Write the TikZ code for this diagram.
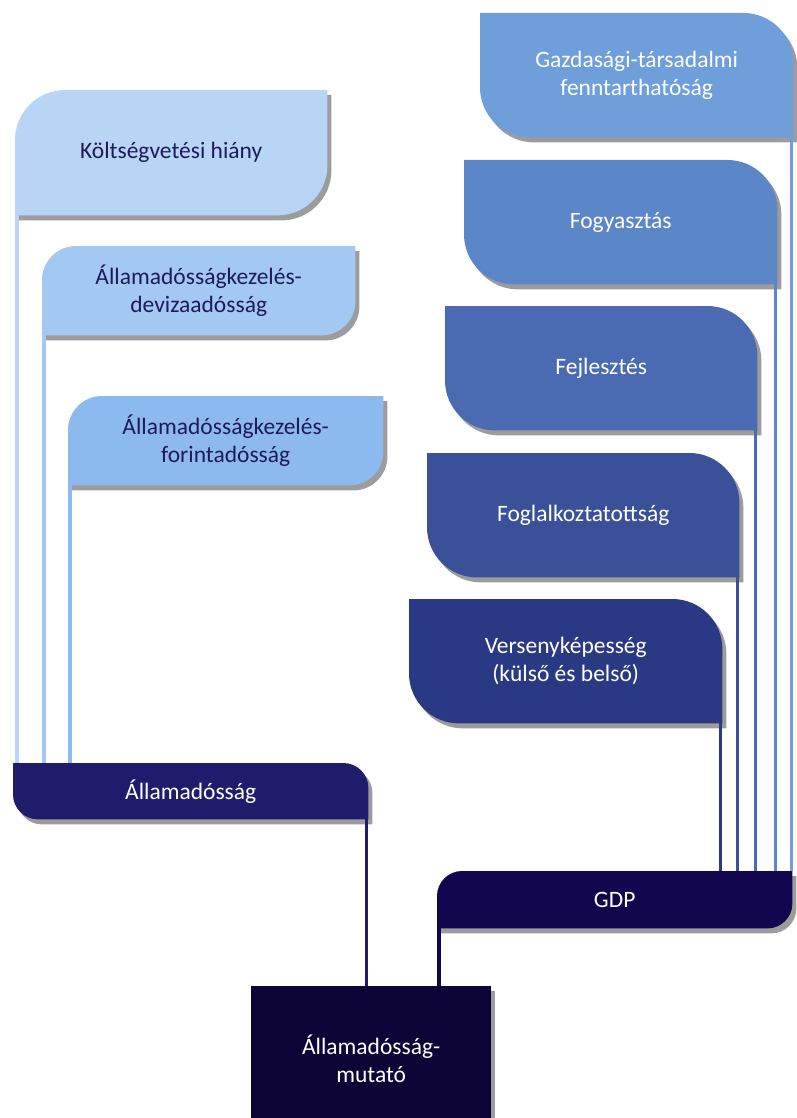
\documentclass[tikz,border=0pt]{standalone}
\usepackage{fontspec}
\setmainfont{Carlito}
\usetikzlibrary{backgrounds}

\definecolor{kvcol}{HTML}{B8D5F6}
\definecolor{devcol}{HTML}{A3C8F2}
\definecolor{fortcol}{HTML}{8DBAEE}
\definecolor{gazdcol}{HTML}{6F9FDB}
\definecolor{fogycol}{HTML}{5B86C7}
\definecolor{fejlcol}{HTML}{4A6AB1}
\definecolor{foglcol}{HTML}{3A5199}
\definecolor{verscol}{HTML}{2A3984}
\definecolor{allamcol}{HTML}{1F1D6B}
\definecolor{gdpcol}{HTML}{12064F}
\definecolor{mutcol}{HTML}{0C0337}
\definecolor{inkcol}{HTML}{1E1A5C}
\definecolor{shadecol}{HTML}{9C9C9C}

% rounded top-left and bottom-right
\newcommand\leafA[3]{%
  \begin{scope}[on background layer]
    \foreach \fc/\dx/\dy in {shadecol/4pt/-5pt, #2/0pt/0pt}{
      \begin{scope}[transform canvas={shift={(\dx,\dy)}}]
        \fill[\fc] (#1.south west) -- ([yshift=-#3]#1.north west)
          arc[start angle=180, end angle=90, radius=#3] -- (#1.north east)
          -- ([yshift=#3]#1.south east)
          arc[start angle=0, end angle=-90, radius=#3] -- cycle;
      \end{scope}}
  \end{scope}}
% rounded top-right and bottom-left
\newcommand\leafB[3]{%
  \begin{scope}[on background layer]
    \foreach \fc/\dx/\dy in {shadecol/4pt/-5pt, #2/0pt/0pt}{
      \begin{scope}[transform canvas={shift={(\dx,\dy)}}]
        \fill[\fc] (#1.north west) -- ([xshift=-#3]#1.north east)
          arc[start angle=90, end angle=0, radius=#3] -- (#1.south east)
          -- ([xshift=#3]#1.south west)
          arc[start angle=270, end angle=180, radius=#3] -- cycle;
      \end{scope}}
  \end{scope}}

\begin{document}
\begin{tikzpicture}[x=1pt, y=-1pt,
    leaf/.style={anchor=north west, inner sep=0pt, align=center,
      font=\fontsize{23.5}{28}\selectfont},
    lightleaf/.style={leaf, text=inkcol},
    darkleaf/.style={leaf, text=white},
    link/.style={line width=3.2pt}]
  \useasboundingbox (0,0) rectangle (796,1118);

  \node[lightleaf, minimum width=312pt, minimum height=125pt] (kv) at (15,90) {Költségvetési hiány};
  \node[lightleaf, minimum width=313pt, minimum height=89pt] (deviza) at (42,246) {Államadósságkezelés-\\devizaadósság};
  \node[lightleaf, minimum width=315pt, minimum height=89pt] (forint) at (68,396) {Államadósságkezelés-\\forintadósság};

  \node[darkleaf, minimum width=313pt, minimum height=124pt] (gazd) at (480,13) {Gazdasági-társadalmi\\fenntarthatóság};
  \node[darkleaf, minimum width=313pt, minimum height=124pt] (fogy) at (464,160) {Fogyasztás};
  \node[darkleaf, minimum width=312pt, minimum height=124pt] (fejl) at (445,306) {Fejlesztés};
  \node[darkleaf, minimum width=312pt, minimum height=124pt] (fogl) at (427,453) {Foglalkoztatottság};
  \node[darkleaf, minimum width=313pt, minimum height=124pt] (vers) at (409,599) {Versenyképesség\\(külső és belső)};

  \node[darkleaf, minimum width=355pt, minimum height=56pt] (allam) at (13,763) {Államadósság};
  \node[darkleaf, minimum width=355pt, minimum height=57pt] (gdp) at (437,871) {GDP};
  \node[darkleaf, minimum width=240pt, minimum height=146pt] (mut) at (251,986) {Államadósság-\\mutató};

  \leafA{kv}{kvcol}{50pt}
  \leafA{deviza}{devcol}{34pt}
  \leafA{forint}{fortcol}{34pt}
  \leafB{gazd}{gazdcol}{50pt}
  \leafB{fogy}{fogycol}{50pt}
  \leafB{fejl}{fejlcol}{50pt}
  \leafB{fogl}{foglcol}{50pt}
  \leafB{vers}{verscol}{50pt}
  \leafB{allam}{allamcol}{25pt}
  \leafA{gdp}{gdpcol}{25pt}
  \begin{scope}[on background layer]
    \fill[shadecol] ([shift={(4pt,-5pt)}]mut.north west) rectangle ([shift={(4pt,-5pt)}]mut.south east);
    \fill[mutcol] (mut.north west) rectangle (mut.south east);
  \end{scope}

  \foreach \n/\c in {kv/kvcol, deviza/devcol, forint/fortcol}
    \draw[link, \c] ([xshift=2pt]\n.south west) -- ([xshift=2pt]\n.south west |- allam.north);
  \foreach \n/\c in {gazd/gazdcol, fogy/fogycol, fejl/fejlcol, fogl/foglcol, vers/verscol}
    \draw[link, \c] ([xshift=-2pt]\n.south east) -- ([xshift=-2pt]\n.south east |- gdp.north);
  \draw[link, allamcol] ([xshift=-2pt]allam.south east) -- ([xshift=-2pt]allam.south east |- mut.north);
  \draw[link, gdpcol] ([xshift=2pt]gdp.south west) -- ([xshift=2pt]gdp.south west |- mut.north);
\end{tikzpicture}
\end{document}
